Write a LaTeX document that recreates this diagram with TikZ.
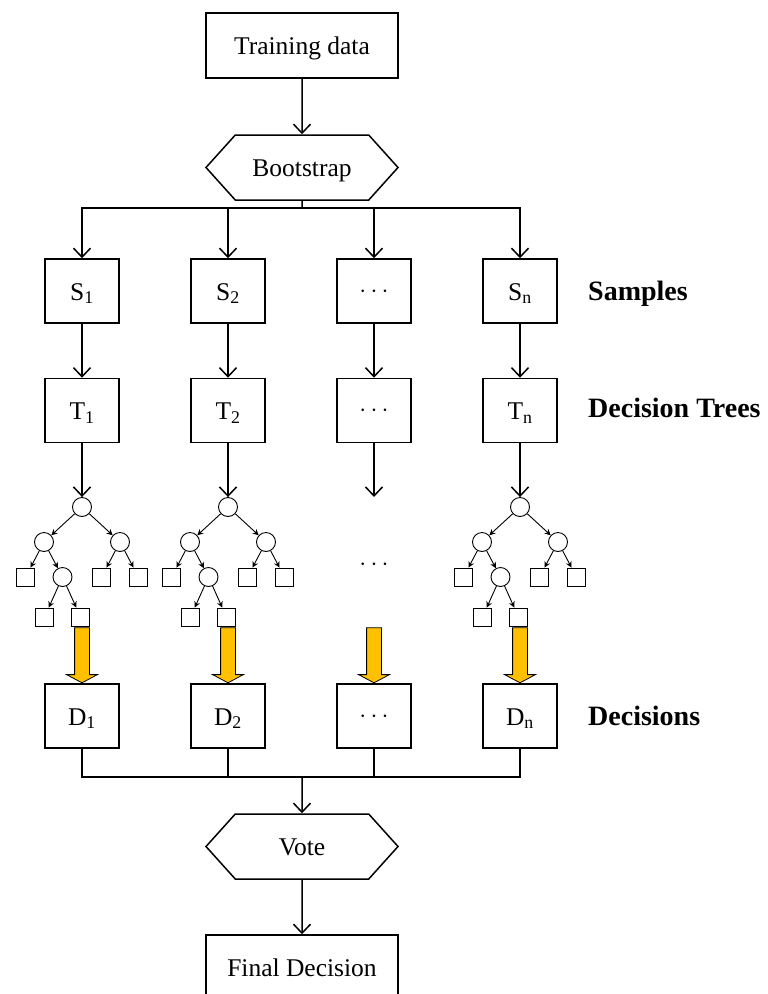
\documentclass[tikz,border=0pt]{standalone}
\usepackage{fontspec}
\setmainfont{Liberation Serif}
\usepackage{tikz}
\usetikzlibrary{shapes.geometric, shapes.symbols, shapes.arrows, arrows.meta, positioning}
\definecolor{votegold}{HTML}{FFC000}

\begin{document}
\begin{tikzpicture}[
    x=1pt, y=1pt,
    every node/.style={font=\fontsize{25.5}{30}\selectfont, inner sep=0pt}, % Times-like text
    box/.style={rectangle, draw, line width=1.5pt, minimum width=74pt, minimum height=64pt,
                text height=18pt, text depth=0pt},
    dotbox/.style={box, text height=12.8pt}, % keeps the dots centred
    wide/.style={box, minimum width=192pt, minimum height=65pt},
    hexa/.style={signal, signal to=east and west, signal pointer angle=96, draw, line width=1.5pt,
                 minimum width=192pt, minimum height=65pt, text height=18pt, text depth=0pt},
    rowlabel/.style={font=\fontsize{28}{32}\selectfont\bfseries, anchor=base west},
    arr/.style={line width=1.5pt, -{Straight Barb[length=9pt, width=17pt]}},
    link/.style={line width=1.5pt},
    tcirc/.style={circle, draw, line width=0.9pt, minimum size=19pt}, % inner tree nodes
    tleaf/.style={rectangle, draw, line width=0.9pt, minimum size=18pt}, % leaves
    edge from parent/.style={draw, line width=0.9pt, -{Stealth[length=6pt, width=6pt]}},
    level 1/.style={sibling distance=76pt, level distance=35pt},
    level 2/.style={sibling distance=37pt, level distance=35pt},
    level 3/.style={sibling distance=36pt, level distance=40pt},
    goldarrow/.style={single arrow, draw, fill=votegold, line width=0.8pt, inner xsep=0pt,
                      inner ysep=7pt, text height=0pt, text depth=0pt, minimum height=55pt,
                      single arrow head extend=8pt, single arrow tip angle=124,
                      rotate=-90, anchor=tip}
  ]
  \useasboundingbox (0,0) rectangle (768,-994);

  % top part
  \node[wide] (train) at (302,-45.5) {Training data};
  \node[hexa] (boot) at (302,-167.5) {Bootstrap};
  \coordinate (split) at (302,-208);
  \draw[arr] (train) -- (boot);
  \draw[link] (boot) -- (split);

  % columns
  \foreach \i/\x/\sub in {1/82/1, 2/228/2, 4/520/n} {
    \node[box] (s\i) at (\x,-291) {S\textsubscript{\sub}};
    \node[box] (t\i) at (\x,-410.5) {T\textsubscript{\sub}};
    \node[box] (d\i) at (\x,-716) {D\textsubscript{\sub}};
    \node[tcirc] (r\i) at (\x,-507) {}
      child {node[tcirc] {}
        child {node[tleaf] {}}
        child {node[tcirc] {}
          child {node[tleaf] {}}
          child {node[tleaf] {}}}}
      child {node[tcirc] {}
        child {node[tleaf] {}}
        child {node[tleaf] {}}};
  }
  \node[dotbox] (s3) at (374,-291) {$\cdots$};
  \node[dotbox] (t3) at (374,-410.5) {$\cdots$};
  \node[dotbox] (d3) at (374,-716) {$\cdots$};
  \coordinate (r3) at (374,-497);
  \node (dots) at (374,-565) {$\cdots$};

  \foreach \i in {1,2,3,4} {
    \draw[arr] (split) -| (s\i);
    \draw[arr] (s\i) -- (t\i);
    \draw[arr] (t\i) -- (r\i);
    \node[goldarrow] (g\i) at (d\i.north) {};
  }

  % row labels
  \node[rowlabel] (lsamp) at (588,-300) {Samples};
  \node[rowlabel] (ltree) at (588,-417) {Decision Trees};
  \node[rowlabel] (ldec) at (588,-725) {Decisions};

  % voting
  \coordinate (merge) at (302,-777);
  \foreach \i in {1,2,3,4}
    \draw[link] (d\i) |- (merge);
  \node[hexa] (vote) at (302,-846.5) {Vote};
  \node[wide] (final) at (302,-967.5) {Final Decision};
  \draw[arr] (merge) -- (vote);
  \draw[arr] (vote) -- (final);
\end{tikzpicture}
\end{document}
